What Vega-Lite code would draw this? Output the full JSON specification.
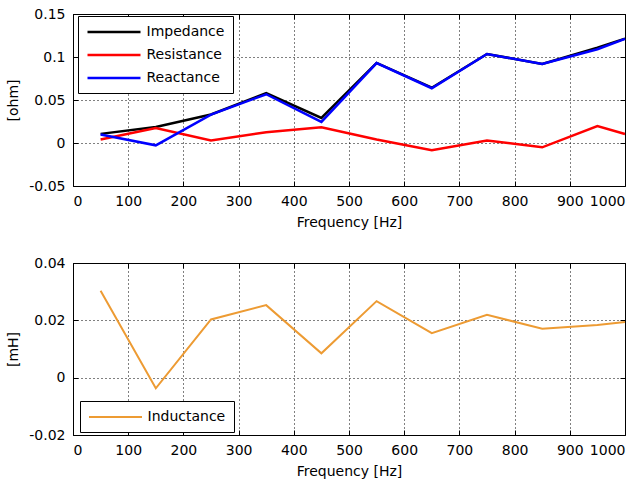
{
  "$schema": "https://vega.github.io/schema/vega-lite/v6.json",
  "padding": {"left": 6, "top": 6, "right": 0, "bottom": 0},
  "background": "white",
  "spacing": 25,
  "resolve": {"scale": {"color": "independent"}, "legend": {"color": "independent"}},
  "datasets": {
    "zr": [
      {"f": 50, "q": "Impedance", "v": 0.0106},
      {"f": 150, "q": "Impedance", "v": 0.0186},
      {"f": 250, "q": "Impedance", "v": 0.0331},
      {"f": 350, "q": "Impedance", "v": 0.0581},
      {"f": 450, "q": "Impedance", "v": 0.0292},
      {"f": 550, "q": "Impedance", "v": 0.0931},
      {"f": 650, "q": "Impedance", "v": 0.0643},
      {"f": 750, "q": "Impedance", "v": 0.1035},
      {"f": 850, "q": "Impedance", "v": 0.092},
      {"f": 950, "q": "Impedance", "v": 0.1108},
      {"f": 1000, "q": "Impedance", "v": 0.1213},
      {"f": 50, "q": "Resistance", "v": 0.004},
      {"f": 150, "q": "Resistance", "v": 0.0175},
      {"f": 250, "q": "Resistance", "v": 0.003},
      {"f": 350, "q": "Resistance", "v": 0.0125},
      {"f": 450, "q": "Resistance", "v": 0.0182},
      {"f": 550, "q": "Resistance", "v": 0.004},
      {"f": 650, "q": "Resistance", "v": -0.0085},
      {"f": 750, "q": "Resistance", "v": 0.003},
      {"f": 850, "q": "Resistance", "v": -0.005},
      {"f": 950, "q": "Resistance", "v": 0.0198},
      {"f": 1000, "q": "Resistance", "v": 0.0105},
      {"f": 50, "q": "Reactance", "v": 0.0098},
      {"f": 150, "q": "Reactance", "v": -0.0027},
      {"f": 250, "q": "Reactance", "v": 0.033},
      {"f": 350, "q": "Reactance", "v": 0.0567},
      {"f": 450, "q": "Reactance", "v": 0.0246},
      {"f": 550, "q": "Reactance", "v": 0.093},
      {"f": 650, "q": "Reactance", "v": 0.0637},
      {"f": 750, "q": "Reactance", "v": 0.1035},
      {"f": 850, "q": "Reactance", "v": 0.0918},
      {"f": 950, "q": "Reactance", "v": 0.109},
      {"f": 1000, "q": "Reactance", "v": 0.121}
    ],
    "ind": [
      {"f": 50, "q": "Inductance", "L": 0.0303},
      {"f": 150, "q": "Inductance", "L": -0.0037},
      {"f": 250, "q": "Inductance", "L": 0.0203},
      {"f": 350, "q": "Inductance", "L": 0.0253},
      {"f": 450, "q": "Inductance", "L": 0.0085},
      {"f": 550, "q": "Inductance", "L": 0.0267},
      {"f": 650, "q": "Inductance", "L": 0.0155},
      {"f": 750, "q": "Inductance", "L": 0.0219},
      {"f": 850, "q": "Inductance", "L": 0.0171},
      {"f": 950, "q": "Inductance", "L": 0.0184},
      {"f": 1000, "q": "Inductance", "L": 0.0194}
    ]
  },
  "config": {
    "font": "DejaVu Sans",
    "view": {"stroke": "black", "strokeWidth": 1},
    "axis": {
      "labelFont": "DejaVu Sans",
      "labelFontSize": 14,
      "labelColor": "black",
      "titleFont": "DejaVu Sans",
      "titleFontSize": 14,
      "titleFontWeight": "normal",
      "titleColor": "black",
      "domain": false,
      "tickColor": "black",
      "tickSize": -5,
      "labelPadding": 13,
      "grid": true,
      "gridColor": "black",
      "gridOpacity": 1,
      "gridDash": [1, 3],
      "gridWidth": 1,
      "labelExpr": "'' + datum.value"
    },
    "axisY": {"titlePadding": 8},
    "axisX": {"titlePadding": 7},
    "legend": {
      "labelFont": "DejaVu Sans",
      "labelFontSize": 14,
      "labelColor": "black",
      "strokeColor": "black",
      "fillColor": "white",
      "padding": 8,
      "symbolType": "stroke",
      "symbolSize": 2809,
      "labelOffset": 4.5,
      "rowPadding": 8
    }
  },
  "vconcat": [
    {
      "width": 552,
      "height": 172,
      "data": {"name": "zr"},
      "resolve": {"axis": {"x": "independent", "y": "independent"}},
      "layer": [
        {
          "mark": {"type": "line", "strokeWidth": 2.5},
          "encoding": {
            "x": {
              "field": "f", "type": "quantitative",
              "scale": {"domain": [0, 1000], "nice": false},
              "axis": {"values": [0, 100, 200, 300, 400, 500, 600, 700, 800, 900, 1000], "title": "Frequency [Hz]"}
            },
            "y": {
              "field": "v", "type": "quantitative",
              "scale": {"domain": [-0.05, 0.15], "nice": false, "zero": false},
              "axis": {"values": [-0.05, 0, 0.05, 0.1, 0.15], "title": "[ohm]"}
            },
            "color": {
              "field": "q", "type": "nominal",
              "scale": {"domain": ["Impedance", "Resistance", "Reactance"], "range": ["#000000", "#ff0000", "#0000ff"]},
              "legend": {"title": null, "orient": "none", "legendX": 5, "legendY": 2, "symbolStrokeWidth": 2.5,
                "encode": {"symbols": {"update": {"y": {"value": 8}}}, "labels": {"update": {"y": {"value": 8}}}}}
            }
          }
        },
        {
          "mark": {"type": "line", "opacity": 0},
          "encoding": {
            "x": {
              "field": "f", "type": "quantitative",
              "axis": {"orient": "top", "values": [0, 100, 200, 300, 400, 500, 600, 700, 800, 900, 1000], "labels": false, "grid": false, "title": null}
            },
            "y": {
              "field": "v", "type": "quantitative",
              "axis": {"orient": "right", "values": [-0.05, 0, 0.05, 0.1, 0.15], "labels": false, "grid": false, "title": null}
            },
            "detail": {"field": "q"}
          }
        }
      ]
    },
    {
      "width": 552,
      "height": 172,
      "data": {"name": "ind"},
      "resolve": {"axis": {"x": "independent", "y": "independent"}},
      "layer": [
        {
          "mark": {"type": "line", "strokeWidth": 2},
          "encoding": {
            "x": {
              "field": "f", "type": "quantitative",
              "scale": {"domain": [0, 1000], "nice": false},
              "axis": {"values": [0, 100, 200, 300, 400, 500, 600, 700, 800, 900, 1000], "title": "Frequency [Hz]"}
            },
            "y": {
              "field": "L", "type": "quantitative",
              "scale": {"domain": [-0.02, 0.04], "nice": false, "zero": false},
              "axis": {"values": [-0.02, 0, 0.02, 0.04], "title": "[mH]"}
            },
            "color": {
              "field": "q", "type": "nominal",
              "scale": {"domain": ["Inductance"], "range": ["#ED9B33"]},
              "legend": {"title": null, "orient": "none", "legendX": 7, "legendY": 138, "symbolStrokeWidth": 2,
                "encode": {"symbols": {"update": {"y": {"value": 8}}}, "labels": {"update": {"y": {"value": 8}}}}}
            }
          }
        },
        {
          "mark": {"type": "line", "opacity": 0},
          "encoding": {
            "x": {
              "field": "f", "type": "quantitative",
              "axis": {"orient": "top", "values": [0, 100, 200, 300, 400, 500, 600, 700, 800, 900, 1000], "labels": false, "grid": false, "title": null}
            },
            "y": {
              "field": "L", "type": "quantitative",
              "axis": {"orient": "right", "values": [-0.02, 0, 0.02, 0.04], "labels": false, "grid": false, "title": null}
            }
          }
        }
      ]
    }
  ]
}
